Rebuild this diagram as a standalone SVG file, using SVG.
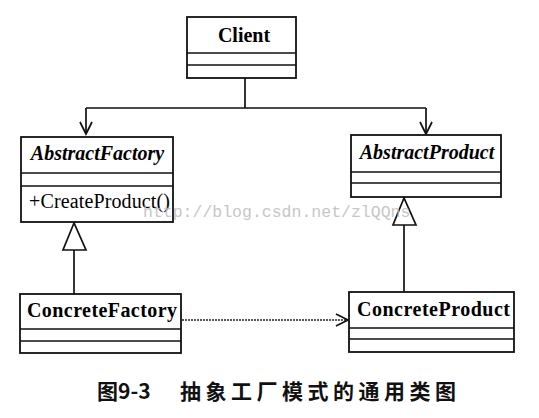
<svg xmlns="http://www.w3.org/2000/svg" width="539" height="418" viewBox="0 0 539 418">
  <style>
    .box { fill: #fff; stroke: #111; stroke-width: 1.8; }
    .sep { stroke: #111; stroke-width: 1.6; }
    .t { font-family: "Liberation Serif", "Times New Roman", serif; font-size: 20px; fill: #000; }
    .b { font-weight: bold; }
    .i { font-style: italic; }
    .conn { fill: none; stroke: #111; stroke-width: 1.7; }
    .dep { fill: none; stroke: #222; stroke-width: 1.3; stroke-dasharray: 2 1; }
    .cap { font-family: "Noto Sans CJK SC", "Noto Sans", sans-serif; font-size: 21px; font-weight: bold; fill: #111; }
    .wm { font-family: "Liberation Mono", "Courier New", monospace; font-size: 16.5px; fill: #bdbdbd; }
  </style>
  <rect width="539" height="418" fill="#fff"/>

  <g id="connectors">
    <path class="conn" d="M245,78 V108 M86,108 H426 M86,108 V134 M426,108 V134"/>
    <path class="conn" d="M80,122 L86,134 L92,122 M420,122 L426,134 L432,122"/>
    <path class="conn" d="M74,250 V294"/>
    <polygon class="conn" points="74,223 63,250 86,250" fill="#fff"/>
    <path class="conn" d="M404,225 V292"/>
    <polygon class="conn" points="404,198 393,225 416,225" fill="#fff"/>
    <path class="dep" d="M182,320 H347"/>
    <path class="conn" stroke-width="1.4" d="M336,314 L348,320 L336,326"/>
  </g>

  <g id="client">
    <rect class="box" x="187" y="17" width="109" height="61"/>
    <path class="sep" d="M187,53 H296 M187,65 H296"/>
    <text class="t b" x="244" y="42" text-anchor="middle">Client</text>
  </g>

  <g id="abstractFactory">
    <rect class="box" x="21" y="137" width="152" height="85"/>
    <path class="sep" d="M21,173 H173 M21,186 H173"/>
    <text class="t b i" x="97.5" y="160" text-anchor="middle">AbstractFactory</text>
    <text class="t" x="29" y="208" textLength="141">+CreateProduct()</text>
  </g>

  <g id="abstractProduct">
    <rect class="box" x="351" y="135" width="150" height="62"/>
    <path class="sep" d="M351,172 H501 M351,183 H501"/>
    <text class="t b i" x="427" y="159" text-anchor="middle">AbstractProduct</text>
  </g>

  <g id="concreteFactory">
    <rect class="box" x="20" y="294" width="161" height="59"/>
    <path class="sep" d="M20,329 H181 M20,341 H181"/>
    <text class="t b" x="27" y="317" textLength="150">ConcreteFactory</text>
  </g>

  <g id="concreteProduct">
    <rect class="box" x="349" y="292" width="165" height="60"/>
    <path class="sep" d="M349,328 H514 M349,339 H514"/>
    <text class="t b" x="357" y="316" textLength="153">ConcreteProduct</text>
  </g>

  <text class="wm" x="143" y="217" opacity="0.85">http://blog.csdn.net/zlQQns</text>

  <g id="caption">
    <text class="cap" x="97" y="399">图9-3</text>
    <text class="cap" x="180" y="399" letter-spacing="4.5">抽象工厂模式的通用类图</text>
  </g>
</svg>
